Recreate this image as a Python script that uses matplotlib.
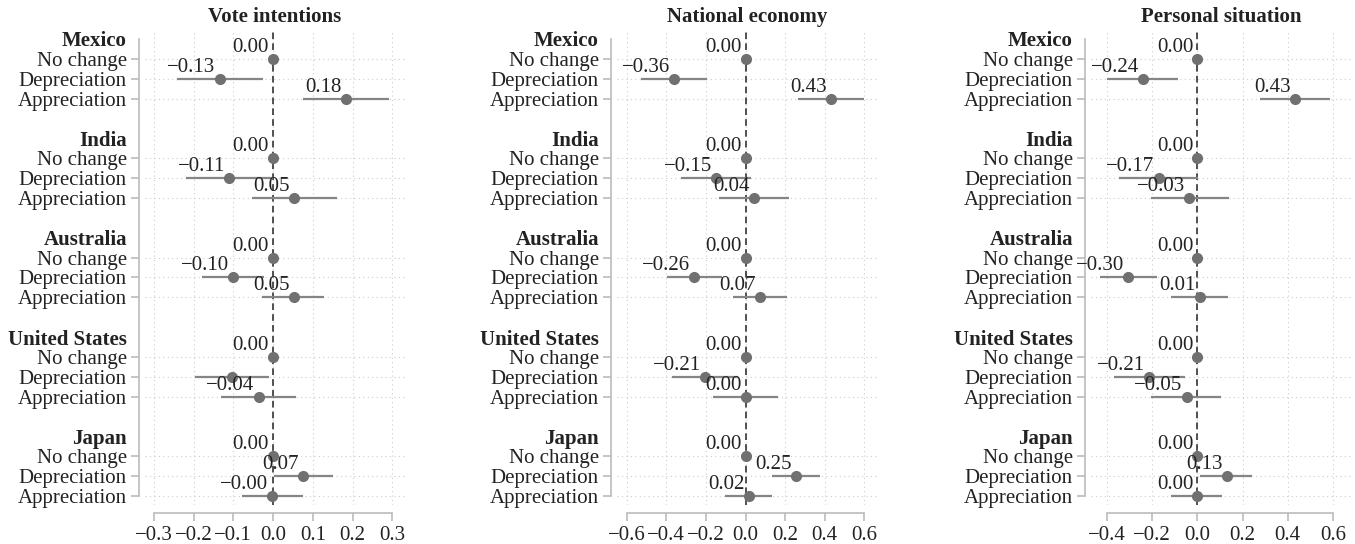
import numpy as np
import matplotlib
matplotlib.use('Agg')
import matplotlib.pyplot as plt

plt.rcParams['font.family'] = ['Liberation Serif', 'DejaVu Serif']
plt.rcParams['axes.unicode_minus'] = True

nan = np.nan

countries = ["Mexico", "India", "Australia", "United States", "Japan"]
levels = ["No change", "Depreciation", "Appreciation"]
titles = ["Vote intentions", "National economy", "Personal situation"]

# estimates and 95% intervals, order: country x (no change, depreciation, appreciation)
vote_est = [0, -0.134, 0.183, 0, -0.110, 0.053, 0, -0.100, 0.052, 0, -0.102, -0.036, 0, 0.075, -0.002]
vote_lo = [nan, -0.242, 0.075, nan, -0.218, -0.054, nan, -0.178, -0.028, nan, -0.197, -0.132, nan, 0.002, -0.077]
vote_hi = [nan, -0.026, 0.291, nan, -0.001, 0.160, nan, -0.022, 0.129, nan, -0.009, 0.058, nan, 0.151, 0.075]
vote_txt = ["0.00", "\u22120.13", "0.18", "0.00", "\u22120.11", "0.05", "0.00", "\u22120.10", "0.05",
            "0.00", "", "\u22120.04", "0.00", "0.07", "\u22120.00"]

econ_est = [0, -0.360, 0.434, 0, -0.147, 0.042, 0, -0.259, 0.071, 0, -0.203, 0.000, 0, 0.254, 0.017]
econ_lo = [nan, -0.527, 0.267, nan, -0.325, -0.135, nan, -0.397, -0.064, nan, -0.369, -0.164, nan, 0.132, -0.105]
econ_hi = [nan, -0.194, 0.600, nan, 0.030, 0.220, nan, -0.118, 0.211, nan, -0.039, 0.166, nan, 0.375, 0.135]
econ_txt = ["0.00", "\u22120.36", "0.43", "0.00", "\u22120.15", "0.04", "0.00", "\u22120.26", "0.07",
            "0.00", "\u22120.21", "0.00", "0.00", "0.25", "0.02"]

pers_est = [0, -0.241, 0.433, 0, -0.171, -0.035, 0, -0.305, 0.012, 0, -0.214, -0.047, 0, 0.132, 0.000]
pers_lo = [nan, -0.400, 0.278, nan, -0.345, -0.206, nan, -0.429, -0.115, nan, -0.371, -0.204, nan, 0.012, -0.115]
pers_hi = [nan, -0.087, 0.589, nan, 0.001, 0.140, nan, -0.177, 0.135, nan, -0.057, 0.105, nan, 0.240, 0.109]
pers_txt = ["0.00", "\u22120.24", "0.43", "0.00", "\u22120.17", "\u22120.03", "0.00", "\u22120.30", "0.01",
            "0.00", "\u22120.21", "\u22120.05", "0.00", "0.13", "0.00"]

xticks = [[-0.3, -0.2, -0.1, 0.0, 0.1, 0.2, 0.3],
          [-0.6, -0.4, -0.2, 0.0, 0.2, 0.4, 0.6],
          [-0.4, -0.2, 0.0, 0.2, 0.4, 0.6]]
xlims = [(-0.322, 0.332), (-0.649, 0.664), (-0.471, 0.680)]

panels = [(vote_est, vote_lo, vote_hi, vote_txt),
          (econ_est, econ_lo, econ_hi, econ_txt),
          (pers_est, pers_lo, pers_hi, pers_txt)]

# row layout: header + 3 levels + blank per country
header_rows = [i * 5 for i in range(len(countries))]
level_rows = [i * 5 + 1 + j for i in range(len(countries)) for j in range(len(levels))]
level_labels = [lv for _ in countries for lv in levels]

W, H = 1355, 544
fig = plt.figure(figsize=(W / 100, H / 100), dpi=100)
lefts = [145, 617, 1091]
ax_w = 260
top_px, bot_px = 30, 505

dark = '#222222'
grey = '#707070'
spine_col = '#bbbbbb'

for k, (est, lo, hi, txt) in enumerate(panels):
    ax = fig.add_axes([lefts[k] / W, 1 - bot_px / H, ax_w / W, (bot_px - top_px) / H])
    est = np.array(est, dtype=float)
    lo = np.array(lo, dtype=float)
    hi = np.array(hi, dtype=float)
    rows = np.array(level_rows)

    # spines first: set_position resets the ticks
    for s in ['top', 'right']:
        ax.spines[s].set_visible(False)
    ax.spines['left'].set_position(('outward', 4))
    ax.spines['bottom'].set_position(('outward', 6))
    for s in ['left', 'bottom']:
        ax.spines[s].set_color(spine_col)
        ax.spines[s].set_linewidth(1.2)

    ax.axvline(0, color='#333333', lw=1.2, ls=(0, (4, 2.5)), zorder=2)
    ok = ~np.isnan(lo)
    ax.hlines(rows[ok], lo[ok], hi[ok], color='#858585', lw=1.6, zorder=3)
    ax.plot(est, rows, 'o', color=grey, ms=7, zorder=4)
    for x, y, t in zip(est, rows, txt):
        if t:
            ax.annotate(t, (x, y), xytext=(-3, 5), textcoords='offset points',
                        ha='right', va='baseline', fontsize=15, color=dark, zorder=5)

    ax.set_xlim(*xlims[k])
    ax.set_ylim(23.45, -0.45)
    ax.spines['left'].set_bounds(0, 23)
    ax.spines['bottom'].set_bounds(xticks[k][0], xticks[k][-1])

    ax.set_xticks(xticks[k])
    ax.set_yticks(level_rows)
    ax.set_yticks(header_rows, minor=True)

    ax.tick_params(axis='both', which='major', labelsize=15, colors=spine_col,
                   labelcolor=dark, length=6, width=1.2, pad=3)
    ax.tick_params(axis='y', which='minor', labelsize=15, length=0, pad=9, labelcolor=dark)
    ax.tick_params(axis='x', which='minor', bottom=False)

    ax.set_xticklabels([f"{v:.1f}".replace('-', '\u2212') for v in xticks[k]])
    ax.set_yticklabels(level_labels)
    ax.set_yticklabels(countries, minor=True, fontweight='bold', fontsize=15)

    ax.grid(True, which='major', color='#cccccc', lw=0.8, ls=(0, (1, 3)))
    ax.set_axisbelow(True)

    ax.set_title(titles[k], fontsize=15, fontweight='bold', color=dark, pad=6)

fig.savefig('out.png', dpi=100)
